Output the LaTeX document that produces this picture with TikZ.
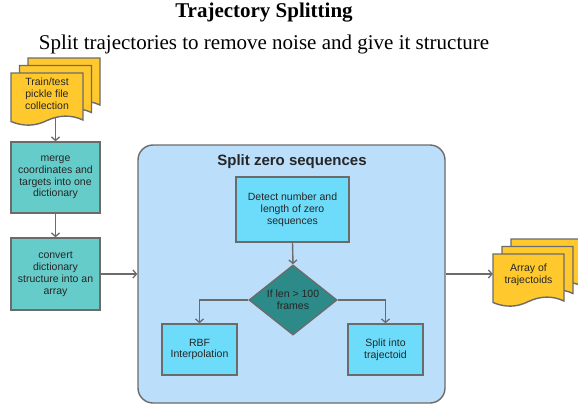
\documentclass[tikz,border=0pt]{standalone}
\usepackage{fontspec}
\setmainfont{Liberation Serif}
\setsansfont{Liberation Sans}
\usetikzlibrary{shapes.geometric,arrows.meta,positioning,calc}
\pgfdeclarelayer{bg}
\pgfsetlayers{bg,main}
\definecolor{docyellow}{HTML}{FFC92E}
\definecolor{tealbox}{HTML}{66CCCA}
\definecolor{cyanbox}{HTML}{6DDCFA}
\definecolor{diamondc}{HTML}{2C8A88}
\definecolor{contfill}{HTML}{BBDEFB}
\definecolor{strokec}{HTML}{6B6B6B}
\definecolor{txtc}{HTML}{262626}
\tikzset{
  outline/.style={draw=strokec, line width=1.4pt},
  docline/.style={outline, fill=docyellow},
  boxfont/.style={font=\sffamily\fontsize{10.5}{11.8}\selectfont, text=txtc, align=center},
  doctext/.style={boxfont, inner sep=0pt},
  tealnode/.style={outline, fill=tealbox, boxfont, minimum width=89pt, inner sep=0pt},
  cyannode/.style={outline, fill=cyanbox, boxfont, inner sep=0pt},
  decnode/.style={outline, fill=diamondc, diamond, aspect=1.25, minimum width=88pt, minimum height=70pt, inner sep=0pt, boxfont},
  contnode/.style={outline, fill=contfill, rounded corners=15pt, minimum width=307pt, minimum height=258pt, inner sep=0pt},
  arr/.style={draw=strokec, line width=1.4pt, -{Straight Barb[length=3.5pt,width=8pt,line width=1.3pt]}},
}
\newcommand{\docshape}[2]{%
  \filldraw[docline, shift={#1}] (0,0) -- (#2,0) -- (#2,47)
    .. controls ({#2*5/6},41.5) and ({#2*4/6},42) .. ({#2/2},47.5)
    .. controls ({#2/3},53.5) and ({#2/6},53.5) .. (0,48.5) -- cycle;}
\begin{document}
\begin{tikzpicture}[x=1pt,y=-1pt]
\useasboundingbox (0,0) rectangle (578,410);
\clip (0,0) rectangle (578,410);
% titles
\node[font=\bfseries\fontsize{21}{24}\selectfont] (title) at (264,13) {Trajectory Splitting};
\node[font=\fontsize{21}{24}\selectfont] (subtitle) at (264,44) {Split trajectories to remove noise and give it structure};
% left document stack
\docshape{(28,58)}{72}
\docshape{(19.5,65.5)}{72}
\docshape{(11,73)}{72}
\node[doctext, minimum width=72pt] (d1) at (47,93.5) {Train/test\\pickle file\\collection};
% left boxes
\node[tealnode, minimum height=71pt] (b1) at (55.5,177.5) {merge\\coordinates and\\targets into one\\dictionary};
\node[tealnode, minimum height=72pt] (b2) at (55.5,274) {convert\\dictionary\\structure into an\\array};
% container
\node[contnode] (c) at (291.5,274) {};
\node[font=\sffamily\bfseries\fontsize{15}{17}\selectfont, text=txtc] (ct) at (292,162) {Split zero sequences};
\node[cyannode, minimum width=113pt, minimum height=65pt] (det) at (292.5,209.5) {Detect number and\\length of zero\\sequences};
\node[decnode] (dec) at (293,300) {If len > 100\\frames};
\node[cyannode, minimum width=75pt, minimum height=51pt] (rbf) at (199.5,349.5) {RBF\\Interpolation};
\node[cyannode, minimum width=75pt, minimum height=51pt] (spl) at (385.5,349.5) {Split into\\trajectoid};
% right document stack
\docshape{(511,239)}{71}
\docshape{(502,246.5)}{71}
\docshape{(493,254)}{71}
\node[doctext, minimum width=71pt] (a1) at (528.5,275) {Array of\\trajectoids};
% connectors
\begin{pgfonlayer}{bg}
\draw[arr] (d1.south -| b1.north) -- (b1.north);
\end{pgfonlayer}
\draw[arr] (b1.south) -- (b2.north);
\draw[arr] (b2.east) -- (c.west);
\draw[arr] (det.south) -- (dec.north);
\draw[arr] (dec.west) -| (rbf.north);
\draw[arr] (dec.east) -| (spl.north);
\draw[arr] (c.east) -- (c.east -| a1.west);
\end{tikzpicture}
\end{document}
